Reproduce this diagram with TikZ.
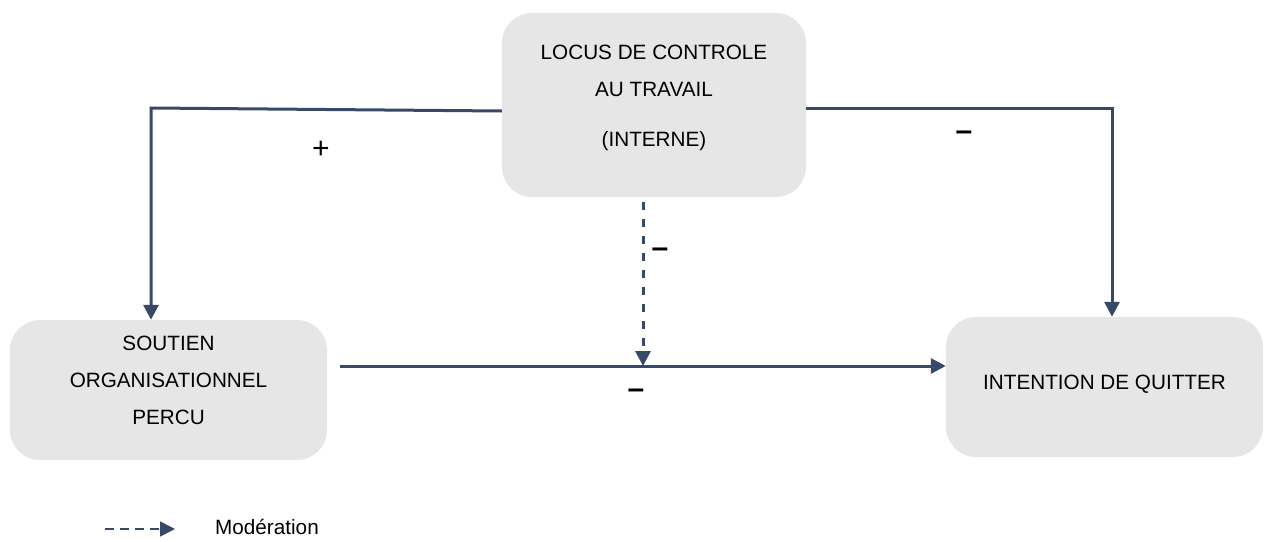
\documentclass[tikz,border=0pt]{standalone}
\usepackage{fontspec}
\setmainfont{Liberation Sans}
\usetikzlibrary{arrows.meta}
\definecolor{linkblue}{RGB}{54,74,104}
\definecolor{boxgray}{RGB}{230,230,230}

\begin{document}
\begin{tikzpicture}[x=1pt,y=-1pt,>={Triangle[length=15pt,width=15pt]},
			box/.style={rectangle,rounded corners=30pt,fill=boxgray,inner sep=0pt,
				minimum width=317pt,minimum height=140pt,align=center,
				font=\fontsize{20.7}{37}\selectfont},
			link/.style={draw=linkblue,line width=3pt},
			modlink/.style={link,dash pattern=on 8pt off 9pt},
			sign/.style={inner sep=0pt,font=\fontsize{30}{30}\selectfont\bfseries}]
			\useasboundingbox (0,0) rectangle (1266,541);
			% boxes
			\node[box,minimum width=304pt,minimum height=184pt,text depth=17.5pt] (locus) at (654,105)
				{LOCUS DE CONTROLE\\AU TRAVAIL\\[13pt](INTERNE)};
			\node[box,text depth=20pt] (soutien) at (168.5,390) {SOUTIEN\\ORGANISATIONNEL\\PERCU};
			\node[box,text depth=9.5pt] (intention) at (1104.5,387) {INTENTION DE QUITTER};
			% links
			\coordinate (cornerL) at (151,108);
			\coordinate (cornerR) at (1112,108);
			\coordinate (startH) at (340,366);
			\coordinate (mod) at (643,366);
			\draw[link,->] ([yshift=-6pt]locus.west) -- (cornerL) -- (cornerL |- soutien.north);
			\draw[link,->] ([yshift=-3pt]locus.east) -- (cornerR) -- (cornerR |- intention.north);
			\draw[link,->] (startH) -- (startH -| intention.west);
			\draw[modlink,->] ([xshift=-11pt,yshift=-5pt]locus.south) -- (mod);
			%\draw[link] (soutien.east) -- (intention.west);
			\node[sign,font=\fontsize{30}{30}\selectfont] (plus) at (321,150) {+};
			\node[sign] (minusR) at (964,136) {–};
			\node[sign] (minusM) at (660,253) {–};
			\node[sign] (minusH) at (636,394) {–};
			% legend
			\coordinate (legA) at (105,529);
			\coordinate (legB) at (175,529);
			\draw[link,line width=1.8pt,dash pattern=on 9pt off 6pt,->] (legA) -- (legB);
			\node[font=\fontsize{20.7}{20.7}\selectfont] (legtext) at (267,527) {Modération};
		\end{tikzpicture}
\end{document}
